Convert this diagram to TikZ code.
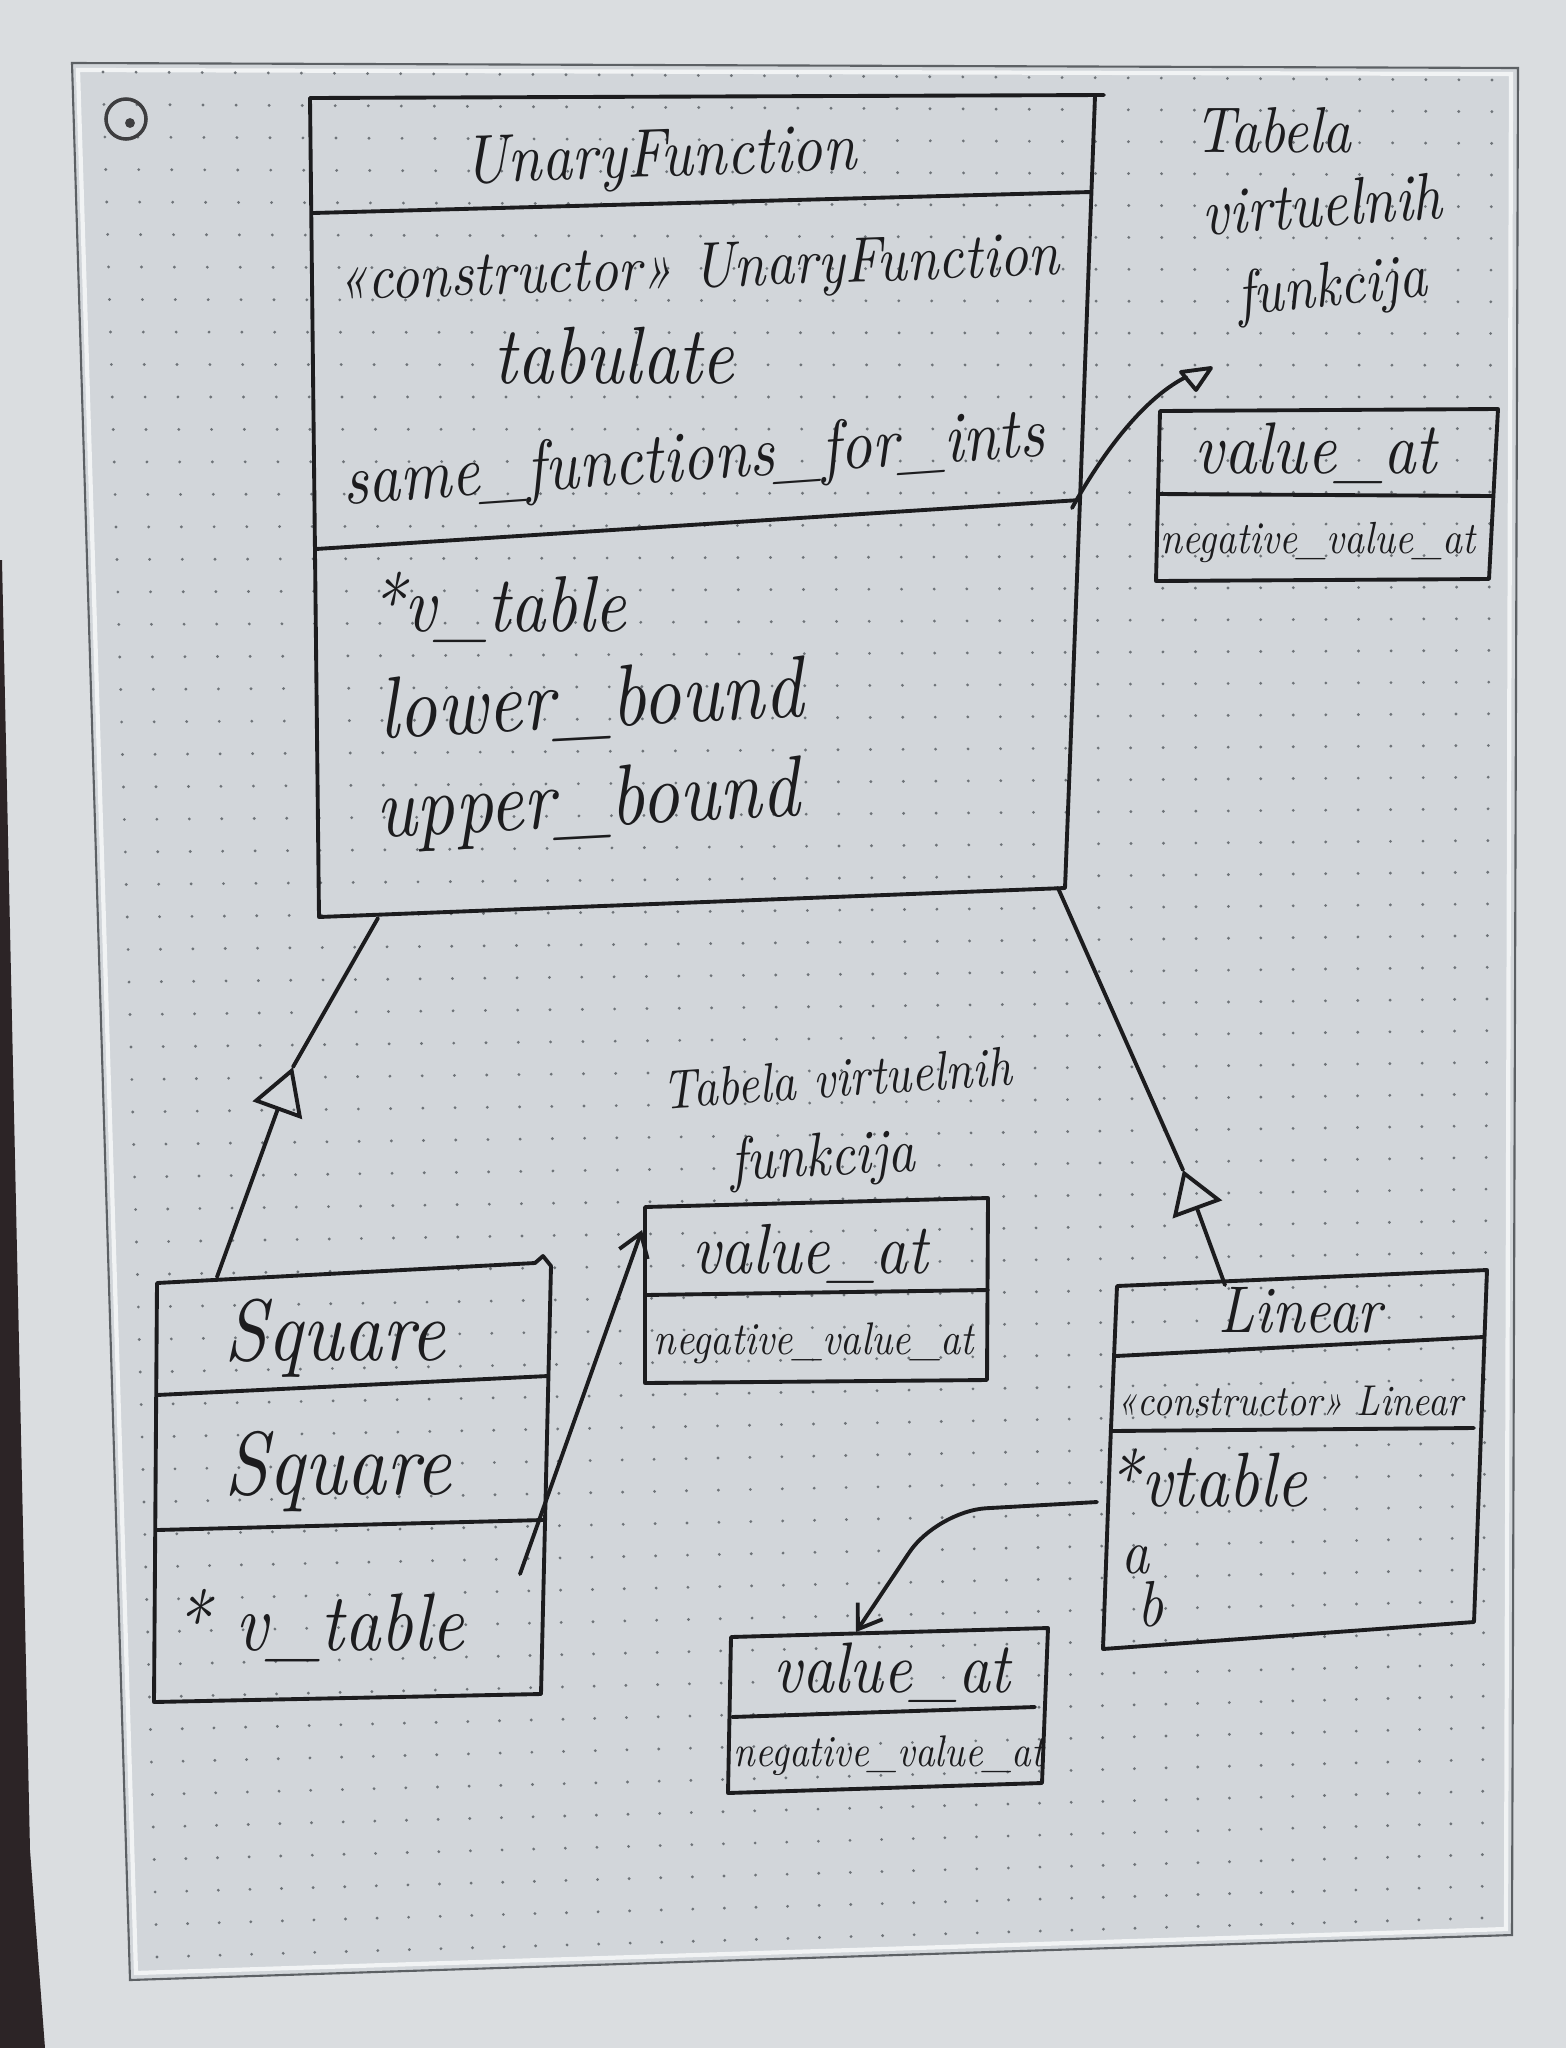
\documentclass[tikz,border=0pt]{standalone}
\usepackage{fontspec}
\usetikzlibrary{arrows.meta}

\definecolor{bezel}{HTML}{DADDE0}
\definecolor{screen}{HTML}{D2D6DA}
\definecolor{screenedge}{HTML}{5C6064}
\definecolor{desk}{HTML}{2C2426}
\definecolor{ink}{HTML}{1C1C1E}
\definecolor{dotc}{HTML}{6E7378}

% handwritten-looking label: italic text stretched to a given width
\newcommand{\hw}[2]{\resizebox{#1}{!}{\scalebox{1}[1.15]{\itshape #2}}}

\tikzset{
  pen/.style={draw=ink, line width=1.1pt, line cap=round, line join=round},
  hand/.style={inner sep=0pt, text=ink},
  gen/.style={pen, -{Triangle[open, length=#1, width=5.2mm, line width=1.1pt]}},
  ptr/.style={pen, -{Straight Barb[length=2.2mm, width=3mm, line width=1.1pt]}}
}

\begin{document}
\begin{tikzpicture}[x=0.01cm, y=-0.01cm]
\useasboundingbox (0,0) rectangle (1566,2048);

% tablet bezel and desk edge
\fill[bezel] (0,0) rectangle (1566,2048);
\fill[desk] (0,560) -- (2,560) -- (30,1850) -- (45,2048) -- (0,2048) -- cycle;

% e-ink screen
\coordinate (scr-tl) at (72,63);
\coordinate (scr-tr) at (1518,68);
\coordinate (scr-br) at (1512,1935);
\coordinate (scr-bl) at (130,1980);
\fill[screen] (scr-tl) -- (scr-tr) -- (scr-br) -- (scr-bl) -- cycle;
\draw[screenedge, line width=0.6pt] (scr-tl) -- (scr-tr) -- (scr-br) -- (scr-bl) -- cycle;
\draw[white!70!screen, line width=1.2pt] (78,70) -- (1511,74) -- (1506,1929) -- (136,1973) -- cycle;

% dot grid of the page
\foreach \i in {0,...,42}{
  \foreach \j in {0,...,58}{
    \pgfmathsetmacro\u{\i/42}
    \pgfmathsetmacro\v{\j/58}
    \pgfmathsetmacro\px{(1-\v)*((1-\u)*103+\u*1492)+\v*((1-\u)*157+\u*1482)}
    \pgfmathsetmacro\py{(1-\v)*((1-\u)*72+\u*80)+\v*((1-\u)*1957+\u*1918)}
    \fill[dotc] (\px,\py) circle[radius=0.45pt];
  }
}

% page icon
\node[circle, draw=ink!85, line width=1pt, minimum size=0.4cm, inner sep=0pt] (icon) at (126,119) {};
\fill[ink!85] (130,123) circle[radius=1.4pt];

% ---------- UnaryFunction ----------
\coordinate (uf-tl) at (310,98);
\coordinate (uf-tr) at (1095,96);
\coordinate (uf-br) at (1065,888);
\coordinate (uf-bl) at (319,917);
\draw[pen] (uf-tl) -- (1104,95);
\draw[pen] (uf-tr) -- (1080,500) -- (uf-br) -- (uf-bl) -- (uf-tl);
\draw[pen] (313,213) -- (1091,192);
\draw[pen] (316,549) -- (1080,500);
\node[hand, rotate=2] (uf-name) at (660,160) {\hw{3.92cm}{UnaryFunction}};
\node[hand, rotate=2] (uf-ctor) at (698,272) {\hw{7.23cm}{«constructor» UnaryFunction}};
\node[hand] (uf-tab) at (614,356) {\hw{2.4cm}{tabulate}};
\node[hand, rotate=4] (uf-same) at (694,462) {\hw{7.03cm}{same\_functions\_for\_ints}};
\node[hand] (uf-vt) at (498,607) {\hw{2.57cm}{*v\_table}};
\node[hand, rotate=3] (uf-lb) at (591,703) {\hw{4.24cm}{lower\_bound}};
\node[hand, rotate=3] (uf-ub) at (588,805) {\hw{4.23cm}{upper\_bound}};
\coordinate (uf-ptr) at (1072,508);
\coordinate (uf-sq) at (378,918);
\coordinate (uf-lin) at (1058,888);

% ---------- virtual table of UnaryFunction ----------
\node[hand] (n1a) at (1273,130) {\hw{1.57cm}{Tabela}};
\node[hand, rotate=4] (n1b) at (1322,204) {\hw{2.4cm}{virtuelnih}};
\node[hand, rotate=6] (n1c) at (1332,290) {\hw{1.9cm}{funkcija}};
\draw[pen] (1160,411) -- (1498,409) -- (1489,579) -- (1156,581) -- cycle;
\draw[pen] (1158,494) -- (1493,496);
\node[hand] (vt1-a) at (1316,453) {\hw{2.42cm}{value\_at}};
\node[hand] (vt1-b) at (1318,542) {\hw{3.15cm}{negative\_value\_at}};
\coordinate (vt1-in) at (1186,377);
\draw[pen] (uf-ptr) .. controls (1110,440) and (1150,395) .. (vt1-in);
\draw[pen] (1181,372) -- (1211,368) -- (1196,390) -- cycle;

% ---------- Square ----------
\coordinate (sq-top) at (217,1277);
\draw[pen] (157,1283) -- (535,1263) -- (543,1256) -- (551,1266) -- (541,1694) -- (154,1702) -- cycle;
\draw[pen] (157,1395) -- (548,1376);
\draw[pen] (157,1530) -- (543,1520);
\node[hand] (sq-name) at (335,1338) {\hw{2.2cm}{Square}};
\node[hand] (sq-ctor) at (338,1472) {\hw{2.26cm}{Square}};
\node[hand] (sq-vt) at (319,1626) {\hw{2.9cm}{* v\_table}};
\coordinate (sq-ptr) at (520,1574);
\coordinate (sq-apex) at (293,1067);
\draw[gen=4.6mm] (sq-top) -- (sq-apex);
\draw[pen] (sq-apex) -- (uf-sq);

% ---------- virtual table of Square ----------
\node[hand, rotate=4] (n2a) at (837,1078) {\hw{3.5cm}{Tabela virtuelnih}};
\node[hand, rotate=3] (n2b) at (823,1160) {\hw{1.85cm}{funkcija}};
\draw[pen] (645,1207) -- (988,1198) -- (987,1380) -- (645,1383) -- cycle;
\draw[pen] (645,1295) -- (988,1290);
\node[hand] (vt2-a) at (810,1254) {\hw{2.35cm}{value\_at}};
\node[hand] (vt2-b) at (814,1343) {\hw{3.2cm}{negative\_value\_at}};
\coordinate (vt2-in) at (642,1230);
\draw[ptr] (sq-ptr) -- (vt2-in);

% ---------- Linear ----------
\coordinate (lin-top) at (1225,1285);
\draw[pen] (1117,1286) -- (1487,1270) -- (1474,1622) -- (1103,1649) -- (1110,1452) -- cycle;
\draw[pen] (1116,1356) -- (1483,1337);
\draw[pen] (1111,1431) -- (1474,1428);
\node[hand] (lin-name) at (1300,1310) {\hw{1.63cm}{Linear}};
\node[hand] (lin-ctor) at (1290,1401) {\hw{3.46cm}{«constructor» Linear}};
\node[hand] (lin-vt) at (1207,1478) {\hw{2.0cm}{*vtable}};
\node[hand] (lin-a) at (1135,1560) {\hw{0.28cm}{a}};
\node[hand] (lin-b) at (1150,1604) {\hw{0.26cm}{b}};
\coordinate (lin-ptr) at (1097,1502);
\coordinate (lin-apex) at (1183,1170);
\draw[gen=4.2mm] (lin-top) -- (lin-apex);
\draw[pen] (lin-apex) -- (uf-lin);

% ---------- virtual table of Linear ----------
\draw[pen] (731,1637) -- (1048,1628) -- (1042,1783) -- (728,1793) -- cycle;
\draw[pen] (732,1717) -- (1035,1707);
\node[hand] (vt3-a) at (892,1673) {\hw{2.37cm}{value\_at}};
\node[hand] (vt3-b) at (889,1756) {\hw{3.1cm}{negative\_value\_at}};
\coordinate (vt3-in) at (856,1632);
\draw[ptr, rounded corners=14pt] (lin-ptr) -- (937,1511) -- (vt3-in);

\end{tikzpicture}
\end{document}
